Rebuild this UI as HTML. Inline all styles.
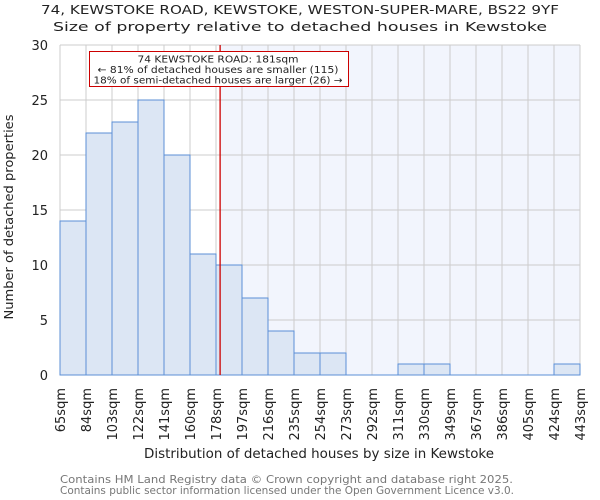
<!DOCTYPE html>
<html><head><meta charset="utf-8"><style>
body{margin:0;background:#fff}
svg{font-family:"DejaVu Sans","Liberation Sans",sans-serif;display:block}
</style></head><body>
<svg id="c" width="600" height="500">
<text x="300" y="14" text-anchor="middle" font-size="12.5" fill="#222" textLength="518" lengthAdjust="spacingAndGlyphs">74, KEWSTOKE ROAD, KEWSTOKE, WESTON-SUPER-MARE, BS22 9YF</text>
<text x="300" y="31" text-anchor="middle" font-size="12.5" fill="#222" textLength="494" lengthAdjust="spacingAndGlyphs">Size of property relative to detached houses in Kewstoke</text>
<g id="plot"></g>
<text x="319" y="458" text-anchor="middle" font-size="13" fill="#222" textLength="350" lengthAdjust="spacingAndGlyphs">Distribution of detached houses by size in Kewstoke</text>
<text transform="translate(13,217) rotate(-90)" text-anchor="middle" font-size="12.5" fill="#222" textLength="205" lengthAdjust="spacingAndGlyphs">Number of detached properties</text>
<text x="60" y="483" font-size="10.5" fill="#777" textLength="453" lengthAdjust="spacingAndGlyphs">Contains HM Land Registry data © Crown copyright and database right 2025.</text>
<text x="60" y="494" font-size="10.5" fill="#777" textLength="454" lengthAdjust="spacingAndGlyphs">Contains public sector information licensed under the Open Government Licence v3.0.</text>
</svg>
<script>
const binLabels=["65sqm","84sqm","103sqm","122sqm","141sqm","160sqm","178sqm","197sqm","216sqm","235sqm","254sqm","273sqm","292sqm","311sqm","330sqm","349sqm","367sqm","386sqm","405sqm","424sqm","443sqm"];
const counts=[14,22,23,25,20,11,10,7,4,2,2,0,0,1,1,0,0,0,0,1];
const yTicks=[0,5,10,15,20,25,30];
const propertySize=181;
const binEdges=[65,84,103,122,141,160,178,197,216,235,254,273,292,311,330,349,367,386,405,424,443];
const NS="http://www.w3.org/2000/svg";
const g=document.getElementById('plot');
const L=60,R=580,T=45,B=375,yMax=30;
const bw=(R-L)/counts.length;
const xi=i=>L+i*bw;
const y=v=>B-v/yMax*(B-T);
function xs(s){for(let i=0;i<binEdges.length-1;i++){if(s<=binEdges[i+1])return xi(i)+(s-binEdges[i])/(binEdges[i+1]-binEdges[i])*bw;}return R;}
function mk(t,a){const e=document.createElementNS(NS,t);for(const k in a)e.setAttribute(k,a[k]);g.appendChild(e);return e;}
const px=xs(propertySize);
let e=mk('rect',{x:px,y:T,width:R-px,height:B-T,fill:'#f2f5fd'});


for(let i=0;i<=counts.length;i++){e=mk('line',{x1:xi(i),x2:xi(i),y1:T,y2:B,stroke:'#ccc','stroke-width':1});

}
yTicks.forEach(v=>{e=mk('line',{x1:L,x2:R,y1:y(v),y2:y(v),stroke:'#ccc','stroke-width':1});


e=mk('text',{x:L-12,y:y(v)+5,'text-anchor':'end','font-size':13,fill:'#222'});e.textContent=v;

});
counts.forEach((c,i)=>{if(c<=0)return;e=mk('rect',{x:xi(i),y:y(c),width:bw,height:B-y(c),fill:'#dce6f4',stroke:'#5b8fd6','stroke-width':1});

});
mk('line',{x1:L,x2:R,y1:B,y2:B,stroke:'#5b8fd6','stroke-width':1});
binLabels.forEach((l,i)=>{e=mk('text',{transform:`translate(${xi(i)+5},388) rotate(-90)`,'text-anchor':'end','font-size':13,fill:'#222'});e.textContent=l;

});
e=mk('line',{x1:px,x2:px,y1:T,y2:B,stroke:'#cc0000','stroke-width':1.3});


e=mk('rect',{x:89.5,y:51.5,width:259,height:35,fill:'#fff',stroke:'#cc0000','stroke-width':1});


const annLines=["74 KEWSTOKE ROAD: 181sqm","← 81% of detached houses are smaller (115)","18% of semi-detached houses are larger (26) →"];
const annWidths=[161,241,249];
annLines.forEach((t,k)=>{e=mk('text',{x:218,y:62.5+k*10.5,'text-anchor':'middle','font-size':10,fill:'#222',textLength:annWidths[k],lengthAdjust:'spacingAndGlyphs'});e.textContent=t;

});
</script>
</body></html>
